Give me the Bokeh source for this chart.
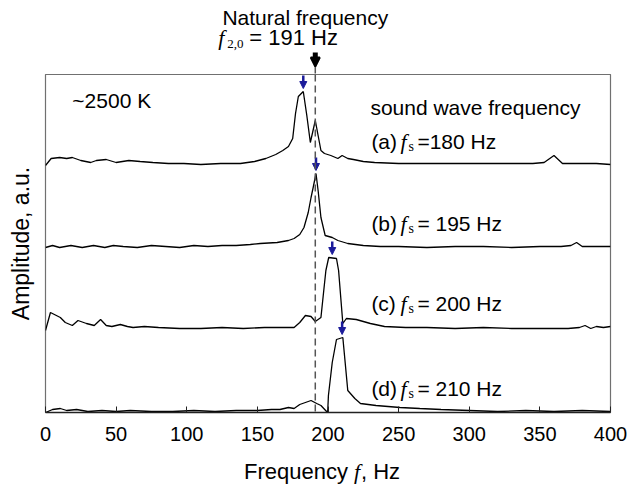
from bokeh.plotting import figure
from bokeh.layouts import column
from bokeh.models import Range1d, FixedTicker, Label, Arrow, NormalHead
from bokeh.embed import file_html
from bokeh.resources import INLINE

# ---------------- data ----------------
x_ticks = [0, 50, 100, 150, 200, 250, 300, 350, 400]
natural_freq = 191  # Hz

# (a) fs = 180 Hz
freq_a = [0, 4, 10, 15, 19, 25, 32, 36, 43, 50, 59, 67, 76, 87, 98, 110, 124, 138, 148, 156,
          163, 168, 172, 175, 177, 179, 182.5, 185, 187.5, 191, 195, 197.5, 202, 207, 210, 214,
          218, 225, 233, 250, 275, 300, 325, 345, 353, 360, 366, 375, 390, 400]
amp_a = [-2, 5, 6, 5, 6, 3, 1, 3, 4, 1, 3, 2, 1, 0, 0, -1, 0, 0, 2, 5,
         9, 13, 17, 25, 50, 67, 72, 48, 21, 43, 13, 10, 8, 5, 8, 5,
         4, 2, 1, 0, 0, 0, 0, 0, 1, 8, 0, 0, 0, -1]

# (b) fs = 195 Hz
freq_b = [0, 5, 10, 18, 26, 34, 42, 48, 55, 65, 75, 85, 95, 105, 115, 125, 135, 145, 152, 164,
          172, 176, 180, 183, 186, 188, 189.5, 191.5, 193, 195, 198, 203, 207, 214, 225, 237,
          250, 270, 290, 310, 330, 350, 365, 372, 376, 380, 390, 400]
amp_b = [-1, 1, -1, 1, -1, 1, -1, 1, 0, -1, 1, 0, -1, 1, 0, 1, 1, 2, 3, 4,
         6, 8, 12, 19, 34, 49, 59, 73, 56, 29, 11, 9, 6, 3, 1, 0,
         0, -1, 0, 0, -1, 0, 0, 1, 4, 0, 0, 0]

# (c) fs = 200 Hz
freq_c = [0, 3.5, 10.5, 14, 19, 23, 29, 34.5, 39, 43, 47, 53, 58, 62, 70, 80, 95, 110, 125, 140,
          155, 168, 176, 180, 184, 188, 191, 195, 197, 198.5, 200.5, 206, 207.5, 210.5, 213,
          220, 230, 240, 255, 270, 290, 310, 330, 350, 370, 378, 382, 386, 390, 395, 400]
amp_c = [-3, 15, 10, 5, 2, 7, 4, 2, 8, 2, 1, 3, 1, 0, 1, 0, -1, -1, 0, -1,
         0, 0, 0, 5, 12, 11, 6, 10, 37, 57, 70, 69, 57, 4, 9,
         8, 4, 1, 0, 0, -1, 0, -1, -1, -1, 0, 2, -1, 1, 0, 1]

# (d) fs = 210 Hz
freq_d = [0, 5, 10.5, 15, 22, 30, 40, 50, 60, 75, 90, 105, 120, 135, 150, 160, 166, 172, 176,
          180, 184, 188, 192, 195, 199, 199.8, 200.3, 203, 206, 210.5, 214, 219, 223, 234, 251,
          265, 280, 300, 320, 340, 360, 380, 400]
amp_d = [-1, 2, 3, 1, 2, 0, 1, 0, 1, 0, 0, 1, 0, 1, 1, 2, 2, 4, 3,
         7, 9, 11, 8, 6, 0, 0, 16, 49, 72, 74, 21, 13, 8, 6, 4,
         3, 2, 1, 0, 1, 0, 1, 0]

series_freqs = [freq_a, freq_b, freq_c, freq_d]
series_amps = [amp_a, amp_b, amp_c, amp_d]
series_offsets = [249, 166, 85, 1]           # vertical stacking of the traces (a.u.)
peak_arrow_freqs = [182.5, 191.5, 203, 210]  # blue markers above each peak (Hz)
series_tags = ["(a)", "(b)", "(c)", "(d)"]
series_fs = ["=180 Hz", "= 195 Hz", "= 200 Hz", "= 210 Hz"]

# ---------------- styling helpers ----------------
SANS = "Liberation Sans"
SERIF = "Liberation Serif"
W = 628
L_BORDER, R_BORDER = 45, 18
x_range = Range1d(0, 400)


def strip(height, y_top):
    f = figure(width=W, height=height, output_backend="svg", toolbar_location=None,
               x_range=x_range, y_range=Range1d(0, y_top),
               x_axis_location=None, y_axis_location=None,
               min_border_left=L_BORDER, min_border_right=R_BORDER,
               min_border_top=0, min_border_bottom=0)
    f.grid.visible = False
    f.outline_line_color = None
    f.background_fill_color = "white"
    f.border_fill_color = "white"
    return f


def lab(fig, x, y, text, font=SANS, size="21px", style="normal", xo=0, yo=0, align="left"):
    fig.add_layout(Label(x=x, y=y, text=text, text_font=font, text_font_size=size,
                         text_font_style=style, text_color="black", x_offset=xo, y_offset=yo,
                         text_align=align, text_baseline="middle"))


# ---------------- top strip: natural frequency marker ----------------
top = strip(74, 74)
lab(top, natural_freq, 57, "Natural frequency", xo=-10, align="center")
lab(top, natural_freq, 37, "f", font=SERIF, size="22px", style="italic", xo=-97)
lab(top, natural_freq, 37, "2,0", font=SERIF, size="13px", xo=-88, yo=-6)
lab(top, natural_freq, 37, "= 191 Hz", size="22px", xo=-66)
top.add_layout(Arrow(end=None, x_start=natural_freq, y_start=8, x_end=natural_freq, y_end=0,
                     line_color="#555555", line_width=1.5, line_dash="7 4"))
top.add_layout(Arrow(end=NormalHead(size=9, fill_color="black", line_color="black", line_width=2),
                     x_start=natural_freq, y_start=22, x_end=natural_freq, y_end=8,
                     line_color="black", line_width=5))

# ---------------- main plot ----------------
p = figure(width=W, height=382, output_backend="svg", toolbar_location=None,
           x_range=x_range, y_range=Range1d(0, 338),
           min_border_left=L_BORDER, min_border_right=R_BORDER,
           min_border_top=0, min_border_bottom=44)
p.background_fill_color = "white"
p.border_fill_color = "white"
p.grid.visible = False
p.outline_line_color = "#707070"
p.outline_line_width = 1.2

p.xaxis.ticker = FixedTicker(ticks=x_ticks)
p.xaxis.major_tick_in = 6
p.xaxis.major_tick_out = 0
p.xaxis.minor_tick_line_color = None
p.xaxis.major_tick_line_color = "#222222"
p.xaxis.axis_line_color = "#222222"
p.xaxis.axis_line_width = 1.3
p.xaxis.major_label_text_font = SANS
p.xaxis.major_label_text_font_size = "20px"
p.xaxis.major_label_text_color = "black"
p.xaxis.major_label_standoff = 14

p.yaxis.ticker = FixedTicker(ticks=[])
p.yaxis.axis_line_color = None
p.yaxis.major_tick_line_color = None
p.yaxis.minor_tick_line_color = None
p.yaxis.major_label_standoff = 0
p.yaxis.axis_label = "Amplitude, a.u."
p.yaxis.axis_label_text_font = SANS
p.yaxis.axis_label_text_font_size = "23px"
p.yaxis.axis_label_text_font_style = "normal"
p.yaxis.axis_label_text_color = "black"
p.yaxis.axis_label_standoff = 12

for fr, am, off in zip(series_freqs, series_amps, series_offsets):
    p.line(fr, [v + off for v in am], line_color="black", line_width=1.3)

for fr, am, off, fa in zip(series_freqs, series_amps, series_offsets, peak_arrow_freqs):
    peak = max(am) + off
    p.add_layout(Arrow(end=NormalHead(size=7, fill_color="#1b1b9a", line_color="#1b1b9a"),
                       x_start=fa, y_start=peak + 16, x_end=fa, y_end=peak + 3,
                       line_color="#1b1b9a", line_width=2.5))

p.add_layout(Arrow(end=None, x_start=natural_freq, y_start=338, x_end=natural_freq, y_end=0,
                   line_color="#555555", line_width=1.5, line_dash="7 4"))

lab(p, 19, 312, "~2500 K")
lab(p, 230, 305, "sound wave frequency")

label_ys = [271, 189, 109, 24]
for tag, fs, ly in zip(series_tags, series_fs, label_ys):
    lab(p, 230, ly, tag, xo=1)
    lab(p, 230, ly, "f", font=SERIF, size="22px", style="italic", xo=30)
    lab(p, 230, ly, "s", font=SERIF, size="14px", xo=38, yo=-5)
    lab(p, 230, ly, fs, xo=47)

# ---------------- bottom strip: x axis title ----------------
bottom = strip(33, 33)
lab(bottom, 200, 18, "Frequency", size="22px", xo=-84)
lab(bottom, 200, 18, "f", font=SERIF, size="22px", style="italic", xo=26)
lab(bottom, 200, 18, ", Hz", size="22px", xo=33)

layout = column(top, p, bottom, spacing=0)
open("out.html", "w").write(file_html(layout, INLINE))
